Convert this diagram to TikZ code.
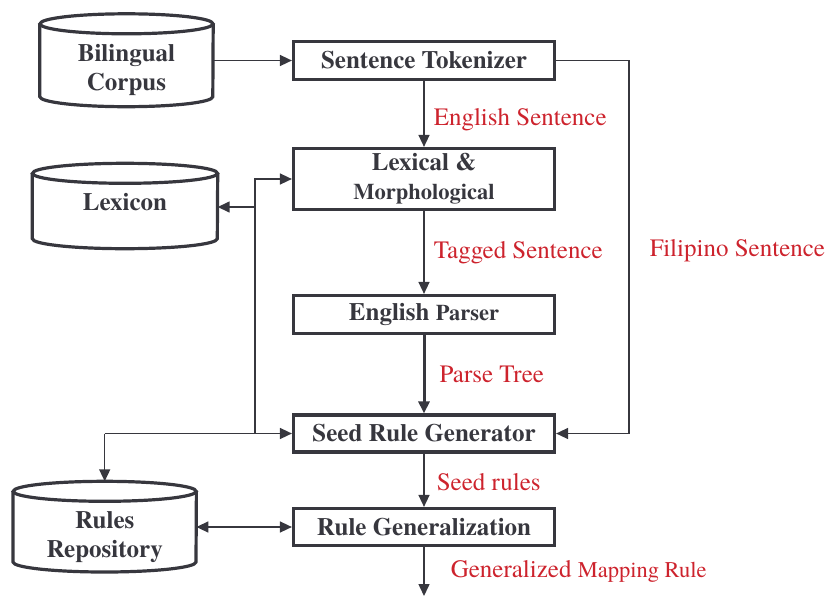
\documentclass[tikz,border=0pt]{standalone}
\usepackage{fontspec}
\setmainfont{texgyretermes}[Extension=.otf, UprightFont=*-regular, BoldFont=*-bold]
\usepackage{tikz}
\usetikzlibrary{arrows.meta}

\definecolor{inkgray}{RGB}{55,55,62}
\definecolor{flowred}{RGB}{205,35,45}

\tikzset{
  procbox/.style={draw=inkgray, line width=3.2pt, rectangle, minimum width=261pt,
    inner sep=0pt, font=\fontsize{25}{29}\selectfont\bfseries, text=inkgray, align=center},
  store/.style={rectangle, inner sep=0pt, font=\fontsize{25}{29}\selectfont\bfseries,
    text=inkgray, align=center},
  storeline/.style={draw=inkgray, line width=3.2pt},
  flowtext/.style={text=flowred, font=\fontsize{25}{29}\selectfont, anchor=west,
    inner sep=0pt, xshift=9pt},
  link/.style={draw=inkgray, line width=1.5pt, -{Triangle[length=12pt, width=11pt]}},
}

% drum outline round a store node: name, half width, cap radius
\newcommand{\storedrum}[3]{%
  \draw[storeline] ([yshift=#3]#1.north west) -- ([yshift=#3]#1.south west)
    arc[start angle=180, end angle=360, x radius=#2, y radius=#3]
    -- ([yshift=#3]#1.north east);
  \draw[storeline] ([yshift=#3]#1.north) ellipse [x radius=#2, y radius=#3];
  \coordinate (#1-top) at ([yshift=2*#3]#1.north);
}

\begin{document}
\begin{tikzpicture}[x=1pt, y=-1pt]
  \useasboundingbox (0,0) rectangle (826,597);

  % process boxes
  \node[procbox, minimum height=38pt] (tokenizer) at (424, 60.5) {Sentence Tokenizer};
  \node[procbox, minimum height=61pt] (lexmorph) at (424, 179)
    {Lexical \&\\{\fontsize{22.5}{26}\selectfont Morphological}};
  \node[procbox, minimum height=38pt] (parser) at (424, 314.5)
    {English {\fontsize{22.5}{26}\selectfont Parser}};
  \node[procbox, minimum height=37pt] (seedgen) at (424, 433.5) {Seed Rule Generator};
  \node[procbox, minimum height=37pt] (rulegen) at (424, 527) {Rule Generalization};

  % data stores
  \node[store, minimum width=173pt, minimum height=72.5pt] (corpus) at (126.5, 70.25) {Bilingual\\Corpus};
  \node[store, minimum width=185pt, minimum height=65pt] (lexicon) at (125, 216) {Lexicon\\\mbox{}};
  \node[store, minimum width=183pt, minimum height=70.3pt] (rulesrepo) at (104.7, 536.65) {Rules\\Repository};
  \storedrum{corpus}{86.5pt}{10pt}
  \storedrum{lexicon}{92.5pt}{10pt}
  \storedrum{rulesrepo}{91.5pt}{10pt}

  \coordinate (lexjoin) at (255, 179);
  \coordinate (lexbranch) at (255, 207);
  \coordinate (seedjoin) at (255, 433.5);
  \coordinate (repojoin) at (rulesrepo-top |- seedgen.west);
  \coordinate (filtop) at (629, 60.5);
  \coordinate (filbot) at (629, 433.5);
  \coordinate (outlet) at (424, 596);

  \draw[link] (corpus.east |- tokenizer.west) -- (tokenizer.west);
  \draw[link] (tokenizer) -- node[flowtext, yshift=-6pt] {English Sentence} (lexmorph);
  \draw[link] (lexmorph) -- node[flowtext] {Tagged Sentence} (parser);
  \draw[link, line width=3pt] (parser) -- node[flowtext, xshift=5pt] {Parse Tree} (seedgen);
  \draw[link] (seedgen) -- node[flowtext, xshift=3pt, yshift=-2pt] {Seed rules} (rulegen);
  \draw[link] (rulegen) -- node[flowtext, xshift=17pt]
    {Generalized {\fontsize{22.5}{26}\selectfont Mapping Rule}} (outlet);
  \draw[link] (tokenizer.east) -- (filtop) -- node[flowtext, xshift=11pt, yshift=-4pt] {Filipino Sentence} (filbot) -- (seedgen.east);

  \draw[link] (seedjoin) -- (lexjoin) -- (lexmorph.west);
  \draw[link] (lexbranch) -- (lexicon.east |- lexbranch);
  \draw[link] (repojoin) -- (seedgen.west);
  \draw[link] (repojoin) -- (rulesrepo-top);
  \draw[link, {Triangle[length=12pt, width=11pt]}-{Triangle[length=12pt, width=11pt]}]
    (rulesrepo.east |- rulegen.west) -- (rulegen.west);
\end{tikzpicture}
\end{document}
